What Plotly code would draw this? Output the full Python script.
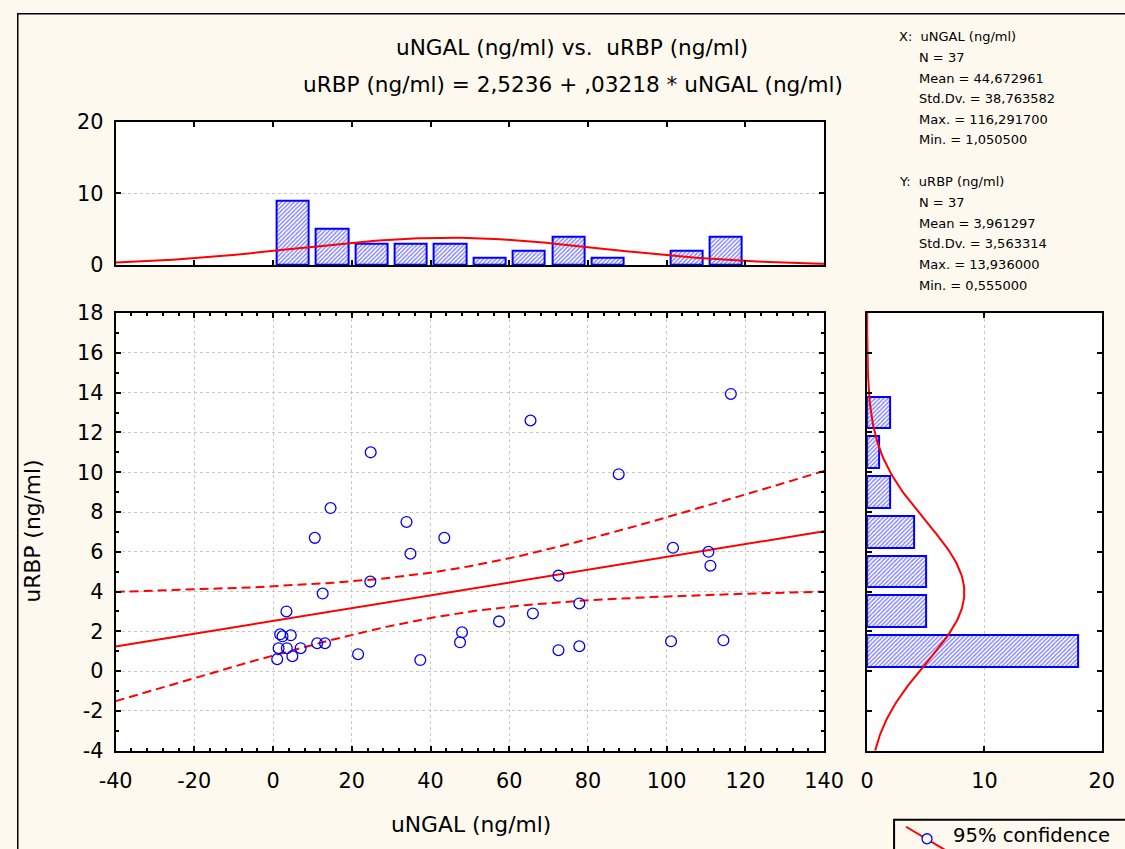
import numpy as np
import plotly.graph_objects as go

# ---- data ----
ungal = [24.8, 14.6, 10.6, 33.9, 34.9, 43.5, 24.7, 12.6, 3.4, 1.8, 2.4, 4.5,
         1.4, 3.5, 7.0, 4.9, 1.05, 11.2, 13.2, 21.6, 37.4, 48.0, 47.5,
         116.2917, 65.4, 87.8, 101.6, 110.6, 111.1, 72.5, 77.8, 66.0, 57.4,
         72.5, 77.8, 101.1, 114.4]
urbp = [11.0, 8.2, 6.7, 7.5, 5.9, 6.7, 4.5, 3.9, 3.0, 1.85, 1.75, 1.8,
        1.15, 1.15, 1.15, 0.75, 0.6, 1.4, 1.4, 0.85, 0.555, 1.95, 1.45,
        13.936, 12.6, 9.9, 6.2, 6.0, 5.3, 4.8, 3.4, 2.9, 2.5,
        1.05, 1.25, 1.5, 1.55]

# histogram of uNGAL (bins of width 10, centres)
x_bin_centres = [5, 15, 25, 35, 45, 55, 65, 75, 85, 95, 105, 115]
x_bin_counts = [9, 5, 3, 3, 3, 1, 2, 4, 1, 0, 2, 4]
# histogram of uRBP (bins of width 2, centres)
y_bin_centres = [1, 3, 5, 7, 9, 11, 13]
y_bin_counts = [18, 5, 5, 4, 2, 1, 2]

# tick labels
x_ticks = [-40, -20, 0, 20, 40, 60, 80, 100, 120, 140]
y_ticks = [-4, -2, 0, 2, 4, 6, 8, 10, 12, 14, 16, 18]
top_ticks = [0, 10, 20]
right_ticks = [0, 10, 20]

# summary statistics
N = 37
X_MEAN, X_SD = 44.672961, 38.763582
Y_MEAN, Y_SD = 3.961297, 3.563314
# fitted line  uRBP = a + b * uNGAL
INTERCEPT, SLOPE = 2.5236, 0.03218
T_CRIT = 2.0301  # t(0.975, df = 35)

# canvas geometry
W, H = 1146, 864
SX, SY = 0.969, 0.971
AX, AY = 8.0, 3.5
BODY = 8
CREAM = "#FEF9EE"
BLUE = "#0000FF"
RED = "#FF0000"
FONT = "DejaVu Sans, Verdana, sans-serif"


def fx(x):
    return (x - AX) / SX - BODY


def fy(y):
    return (y - AY) / SY - BODY


def px(x):
    return fx(x) / W


def py(y):
    return 1 - fy(y) / H


def labels(vals):
    return [str(v) for v in vals]


# regression line and 95% confidence band for the mean
xs = np.linspace(-40, 140, 181)
fit = INTERCEPT + SLOPE * xs
r = SLOPE * X_SD / Y_SD
s_res = Y_SD * np.sqrt((1 - r ** 2) * (N - 1) / (N - 2))
sxx = (N - 1) * X_SD ** 2
half = T_CRIT * s_res * np.sqrt(1 / N + (xs - X_MEAN) ** 2 / sxx)

# normal curves over the histograms
xn = np.linspace(-40, 140, 200)
x_norm = N * 10 / (X_SD * np.sqrt(2 * np.pi)) * np.exp(-0.5 * ((xn - X_MEAN) / X_SD) ** 2)
yn = np.linspace(-4, 18, 200)
y_norm = N * 2 / (Y_SD * np.sqrt(2 * np.pi)) * np.exp(-0.5 * ((yn - Y_MEAN) / Y_SD) ** 2)

bar_marker = dict(color="white",
                  pattern=dict(shape="/", fgcolor=BLUE, bgcolor="white", size=3, solidity=0.45),
                  line=dict(color=BLUE, width=2))

hx = [(c, n) for c, n in zip(x_bin_centres, x_bin_counts) if n > 0]
hy = [(c, n) for c, n in zip(y_bin_centres, y_bin_counts) if n > 0]

fig = go.Figure()

# scatter panel
fig.add_trace(go.Scatter(x=xs, y=fit, mode="lines", line=dict(color=RED, width=2),
                         xaxis="x", yaxis="y", hoverinfo="skip"))
fig.add_trace(go.Scatter(x=xs, y=fit + half, mode="lines",
                         line=dict(color=RED, width=2, dash="9px,5px"), xaxis="x", yaxis="y"))
fig.add_trace(go.Scatter(x=xs, y=fit - half, mode="lines",
                         line=dict(color=RED, width=2, dash="9px,5px"), xaxis="x", yaxis="y"))
fig.add_trace(go.Scatter(x=ungal, y=urbp, mode="markers",
                         marker=dict(symbol="circle-open", size=10.8, color=BLUE, line=dict(width=1.3)),
                         xaxis="x", yaxis="y"))

# top histogram
fig.add_trace(go.Bar(x=[c for c, _ in hx], y=[n for _, n in hx], width=8.2, marker=bar_marker,
                     xaxis="x2", yaxis="y2"))
fig.add_trace(go.Scatter(x=xn, y=x_norm, mode="lines", line=dict(color=RED, width=2),
                         xaxis="x2", yaxis="y2"))

# right histogram
fig.add_trace(go.Bar(y=[c for c, _ in hy], x=[n for _, n in hy], width=1.6, orientation="h",
                     marker=bar_marker, xaxis="x3", yaxis="y3"))
fig.add_trace(go.Scatter(x=y_norm, y=yn, mode="lines", line=dict(color=RED, width=2),
                         xaxis="x3", yaxis="y3"))

tickfont = dict(family=FONT, size=20.8, color="black")
common = dict(showline=True, linecolor="black", linewidth=2, mirror="ticks",
              ticks="inside", ticklen=5, tickwidth=1.5, tickcolor="black",
              zeroline=False, gridcolor="#c8c8c8", griddash="dot", gridwidth=1,
              tickfont=tickfont, fixedrange=True, tickmode="array")

dom_x_main = [px(114.5), px(824)]
dom_y_main = [py(749), py(312)]
dom_y_top = [py(264), py(121)]
dom_x_right = [px(867), px(1102)]

fig.update_layout(
    width=W, height=H,
    margin=dict(l=0, r=0, t=0, b=0),
    paper_bgcolor=CREAM, plot_bgcolor="white",
    showlegend=False, bargap=0,
    font=dict(family=FONT, color="black"),
    xaxis=dict(domain=dom_x_main, anchor="y", range=[-40, 140],
               tickvals=x_ticks, ticktext=labels(x_ticks),
               showgrid=True, ticklabelstandoff=10,
               minor=dict(dtick=4, tick0=0, ticks="inside", ticklen=3, tickcolor="black", showgrid=False),
               **common),
    yaxis=dict(domain=dom_y_main, anchor="x", range=[-4, 18],
               tickvals=y_ticks, ticktext=labels(y_ticks),
               showgrid=True, ticklabelstandoff=6,
               minor=dict(dtick=1, tick0=0, ticks="inside", ticklen=3, tickcolor="black", showgrid=False),
               **common),
    xaxis2=dict(domain=dom_x_main, anchor="y2", range=[-40, 140],
                tickvals=x_ticks, ticktext=labels(x_ticks),
                showgrid=False, showticklabels=False, **common),
    yaxis2=dict(domain=dom_y_top, anchor="x2", range=[0, 20],
                tickvals=top_ticks, ticktext=labels(top_ticks),
                showgrid=True, ticklabelstandoff=6, **common),
    xaxis3=dict(domain=dom_x_right, anchor="y3", range=[0, 20],
                tickvals=right_ticks, ticktext=labels(right_ticks),
                showgrid=True, ticklabelstandoff=10, **common),
    yaxis3=dict(domain=dom_y_main, anchor="x3", range=[-4, 18],
                tickvals=y_ticks, ticktext=labels(y_ticks),
                showgrid=False, showticklabels=False, **common),
)

annotations = []


def text(x, y, s, size, xanchor="left", angle=0):
    annotations.append(dict(x=px(x), y=py(y), xref="paper", yref="paper", text=s,
                            showarrow=False, xanchor=xanchor, yanchor="middle",
                            textangle=angle, font=dict(family=FONT, size=size, color="black")))


text(571, 47, "uNGAL (ng/ml) vs.&nbsp; uRBP (ng/ml)", 21.6, "center")
text(572, 84, "uRBP (ng/ml) = 2,5236 + ,03218 * uNGAL (ng/ml)", 21.6, "center")
text(470, 823, "uNGAL (ng/ml)", 21.8, "center")
text(31, 530, "uRBP (ng/ml)", 21.8, "center", angle=-90)

stats_x = [
    "X:  uNGAL (ng/ml)",
    f"N = {N}",
    "Mean = 44,672961",
    "Std.Dv. = 38,763582",
    "Max. = 116,291700",
    "Min. = 1,050500",
]
stats_y = [
    "Y:  uRBP (ng/ml)",
    f"N = {N}",
    "Mean = 3,961297",
    "Std.Dv. = 3,563314",
    "Max. = 13,936000",
    "Min. = 0,555000",
]
for block, y0 in ((stats_x, 36), (stats_y, 181)):
    for i, line in enumerate(block):
        text(897 if i == 0 else 917, y0 + i * 20.6, line, 13)

# legend entry at the bottom right
text(951, 834, "95% confidence", 19.6)

shapes = [
    dict(type="rect", xref="paper", yref="paper", x0=0, x1=1, y0=py(13), y1=1,
         fillcolor="white", line=dict(width=0), layer="above"),
    dict(type="line", xref="paper", yref="paper", x0=0, x1=1.01, y0=py(13), y1=py(13),
         line=dict(color="black", width=1.5)),
    dict(type="line", xref="paper", yref="paper", x0=0.8 / W, x1=0.8 / W, y0=py(13), y1=-0.01,
         line=dict(color="black", width=1.5)),
    dict(type="rect", xref="paper", yref="paper", x0=px(894), x1=px(1160), y0=py(818), y1=py(880),
         line=dict(color="black", width=2), fillcolor="rgba(0,0,0,0)"),
    dict(type="line", xref="paper", yref="paper", x0=px(906), x1=px(950), y0=py(825), y1=py(851),
         line=dict(color=RED, width=2)),
    dict(type="circle", xref="paper", yref="paper", x0=px(922), x1=px(932), y0=py(842), y1=py(832),
         line=dict(color=BLUE, width=1.3), fillcolor="white"),
]

fig.update_layout(annotations=annotations, shapes=shapes)
fig.write_html("out.html")
